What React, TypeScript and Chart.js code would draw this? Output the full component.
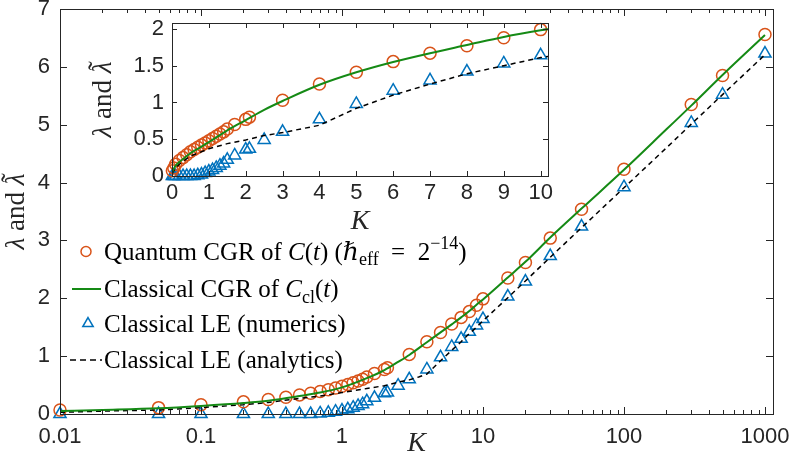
import React, { useEffect, useRef } from 'react';
import { Chart, registerables } from 'chart.js';

Chart.register(...registerables);

// ---------------- data ----------------
const kQuantum = [0.01, 0.05, 0.1, 0.2, 0.3, 0.4, 0.5, 0.6, 0.7, 0.8, 0.9, 1.0, 1.1, 1.2, 1.3, 1.4, 1.5, 1.7, 2.0, 2.1, 3, 4, 5, 6, 7, 8, 9, 10, 15, 20, 30, 50, 100, 300, 500, 1000];
const quantumCGR = [0.07, 0.11, 0.16, 0.21, 0.25, 0.29, 0.33, 0.36, 0.39, 0.42, 0.45, 0.48, 0.51, 0.54, 0.57, 0.6, 0.64, 0.7, 0.77, 0.8, 1.03, 1.25, 1.41, 1.555, 1.67, 1.77, 1.88, 1.99, 2.35, 2.62, 3.04, 3.54, 4.23, 5.35, 5.85, 6.56];

const kClassical = [0.01, 0.02, 0.05, 0.1, 0.2, 0.3, 0.5, 0.7, 1, 1.5, 2, 2.5, 3, 4, 5, 6, 7, 8, 9, 10, 15, 20, 30, 50, 100, 200, 300, 500, 1000];
const classicalCGR = [0.05, 0.07, 0.1, 0.14, 0.19, 0.23, 0.31, 0.37, 0.46, 0.62, 0.76, 0.9, 1.02, 1.24, 1.41, 1.55, 1.67, 1.78, 1.89, 1.98, 2.36, 2.63, 3.05, 3.55, 4.22, 4.92, 5.33, 5.86, 6.55];

const kNumerics = [0.01, 0.05, 0.1, 0.2, 0.3, 0.4, 0.5, 0.6, 0.7, 0.8, 0.9, 1.0, 1.1, 1.2, 1.3, 1.4, 1.5, 1.7, 2.0, 2.1, 2.5, 3, 4, 5, 6, 7, 8, 9, 10, 15, 20, 30, 50, 100, 300, 500, 1000];
const leNumerics = [0, 0, 0, 0, 0, 0, 0, 0, 0.01, 0.02, 0.04, 0.06, 0.08, 0.11, 0.14, 0.17, 0.22, 0.28, 0.36, 0.37, 0.49, 0.6, 0.77, 0.98, 1.16, 1.3, 1.42, 1.53, 1.64, 2.03, 2.29, 2.73, 3.24, 3.92, 5.03, 5.52, 6.23];

const kAnalytic = [0.01, 0.02, 0.05, 0.1, 0.2, 0.3, 0.5, 0.7, 1, 1.5, 2, 2.5, 3, 3.5, 4, 5, 6, 7, 8, 9, 10, 15, 20, 30, 50, 100, 200, 300, 500, 1000];
const leAnalytic = [0.03, 0.05, 0.07, 0.11, 0.16, 0.2, 0.27, 0.31, 0.37, 0.44, 0.49, 0.55, 0.59, 0.64, 0.69, 0.92, 1.1, 1.25, 1.39, 1.5, 1.61, 2.01, 2.3, 2.71, 3.22, 3.91, 4.6, 5.01, 5.52, 6.21];

const mainXTickLabels = ['0.01', '0.1', '1', '10', '100', '1000'];
const mainYTickLabels = ['0', '1', '2', '3', '4', '5', '6', '7'];
const insetXTickLabels = ['0', '1', '2', '3', '4', '5', '6', '7', '8', '9', '10'];
const insetYTickLabels = ['0', '0.5', '1', '1.5', '2'];

const xTitle = 'K';
// y title: "λ and λ̃"
const yTitleParts = ['λ', ' and ', 'λ'];

type Seg = { t: string; it?: boolean; sub?: boolean; sup?: boolean };
const legendLabels: Seg[][] = [
  [{ t: 'Quantum CGR of ' }, { t: 'C', it: true }, { t: '(' }, { t: 't', it: true }, { t: ') (' }, { t: 'ℏ', it: true }, { t: 'eff', sub: true }, { t: '\u2002=\u20022' }, { t: '−14', sup: true }, { t: ')' }],
  [{ t: 'Classical CGR of ' }, { t: 'C', it: true }, { t: 'cl', sub: true }, { t: '(' }, { t: 't', it: true }, { t: ')' }],
  [{ t: 'Classical LE (numerics)' }],
  [{ t: 'Classical LE (analytics)' }],
];

// ---------------- styles ----------------
const ORANGE = '#D95319';
const GREEN = '#158A15';
const BLUE = '#0072BD';
const AXIS = '#262626';
const SANS = "'Liberation Sans', Arial, Helvetica, sans-serif";
const SERIF = "'Liberation Serif', 'DejaVu Serif', serif";

const pts = (xs: number[], ys: number[]) => xs.map((x, i) => ({ x, y: ys[i] }));

function makeDatasets(): any[] {
  return [
    {
      label: 'classical',
      data: pts(kClassical, classicalCGR),
      showLine: true,
      borderColor: GREEN,
      borderWidth: 2,
      pointRadius: 0,
      cubicInterpolationMode: 'monotone',
    },
    {
      label: 'analytics',
      data: pts(kAnalytic, leAnalytic),
      showLine: true,
      borderColor: '#000',
      borderWidth: 1.5,
      borderDash: [5, 4],
      pointRadius: 0,
    },
    {
      label: 'quantum',
      data: pts(kQuantum, quantumCGR),
      showLine: false,
      pointStyle: 'circle',
      pointRadius: 6,
      pointBorderWidth: 1.5,
      pointBorderColor: ORANGE,
      pointBackgroundColor: 'rgba(0,0,0,0)',
      borderColor: ORANGE,
      clip: 12,
    },
    {
      label: 'numerics',
      data: pts(kNumerics, leNumerics),
      showLine: false,
      pointStyle: 'triangle',
      pointRadius: 7,
      pointBorderWidth: 1.5,
      pointBorderColor: BLUE,
      pointBackgroundColor: 'rgba(0,0,0,0)',
      borderColor: BLUE,
      clip: 12,
    },
  ];
}

const isLogTick = (v: number) => {
  const e = Math.floor(Math.log10(v) + 1e-9);
  const m = v / Math.pow(10, e);
  return Math.abs(m - Math.round(m)) < 1e-6;
};

const zeroPad = (s: any) => {
  s.paddingLeft = 0;
  s.paddingRight = 0;
  s.paddingTop = 0;
  s.paddingBottom = 0;
};

const boxTicksPlugin = {
  id: 'boxTicks',
  afterDraw(chart: any, _a: any, opts: any) {
    const { ctx, chartArea: a, scales } = chart;
    const xs = scales.x;
    const ys = scales.y;
    ctx.save();
    ctx.strokeStyle = AXIS;
    ctx.lineWidth = 1;
    ctx.beginPath();
    const isLog = xs.type === 'logarithmic';
    for (const t of xs.ticks) {
      const v = t.value;
      let len = opts.major;
      if (isLog) {
        const e = Math.floor(Math.log10(v) + 1e-9);
        const m = Math.round(v / Math.pow(10, e));
        if (m !== 1) len = opts.minor;
      }
      const px = Math.round(xs.getPixelForValue(v)) + 0.5;
      ctx.moveTo(px, a.bottom);
      ctx.lineTo(px, a.bottom - len);
      ctx.moveTo(px, a.top);
      ctx.lineTo(px, a.top + len);
    }
    for (const t of ys.ticks) {
      const py = Math.round(ys.getPixelForValue(t.value)) + 0.5;
      ctx.moveTo(a.left, py);
      ctx.lineTo(a.left + opts.major, py);
      ctx.moveTo(a.right, py);
      ctx.lineTo(a.right - opts.major, py);
    }
    ctx.stroke();
    ctx.strokeRect(Math.round(a.left) + 0.5, Math.round(a.top) + 0.5, Math.round(a.right - a.left), Math.round(a.bottom - a.top));

    // rotated y-axis title with mixed styles: italic λ, roman "and", italic λ with tilde
    const size = opts.titleSize;
    const cx = opts.titleX;
    const cy = (a.top + a.bottom) / 2;
    ctx.translate(cx, cy);
    ctx.rotate(-Math.PI / 2);
    ctx.fillStyle = AXIS;
    ctx.textBaseline = 'alphabetic';
    ctx.textAlign = 'left';
    const fonts = [`italic ${size}px ${SERIF}`, `${size}px ${SERIF}`, `italic ${size}px ${SERIF}`];
    const widths = yTitleParts.map((p, i) => {
      ctx.font = fonts[i];
      return ctx.measureText(p).width;
    });
    const total = widths.reduce((s, w) => s + w, 0);
    let x = -total / 2;
    const base = size * 0.3;
    yTitleParts.forEach((p, i) => {
      ctx.font = fonts[i];
      ctx.fillText(p, x, base);
      if (i === 2) {
        ctx.font = `${size}px ${SERIF}`;
        const tw = ctx.measureText('\u02DC').width;
        ctx.fillText('\u02DC', x + widths[i] / 2 - tw / 2 + size * 0.06, base - size * 0.16);
      }
      x += widths[i];
    });
    ctx.restore();
  },
};

const whiteAreaPlugin = {
  id: 'whiteArea',
  beforeDraw(chart: any) {
    const { ctx, chartArea: a } = chart;
    ctx.save();
    ctx.fillStyle = '#fff';
    ctx.fillRect(a.left, a.top, a.right - a.left, a.bottom - a.top);
    ctx.restore();
  },
};

function drawRich(ctx: CanvasRenderingContext2D, segs: Seg[], x: number, y: number, size: number) {
  let cx = x;
  for (const s of segs) {
    const small = s.sub || s.sup;
    const fs = small ? size * 0.72 : size;
    ctx.font = `${s.it ? 'italic ' : ''}${fs}px ${SERIF}`;
    const dy = s.sub ? size * 0.22 : s.sup ? -size * 0.42 : 0;
    ctx.fillText(s.t, cx, y + dy);
    cx += ctx.measureText(s.t).width;
  }
}

const legendPlugin = {
  id: 'customLegend',
  afterDraw(chart: any) {
    const ctx: CanvasRenderingContext2D = chart.ctx;
    const rows = [251.5, 289, 323.5, 360];
    const textX = 104;
    const size = 25;
    ctx.save();
    ctx.lineWidth = 1.5;
    ctx.strokeStyle = ORANGE;
    ctx.beginPath();
    ctx.arc(86, rows[0], 5, 0, Math.PI * 2);
    ctx.stroke();
    ctx.strokeStyle = GREEN;
    ctx.lineWidth = 2;
    ctx.beginPath();
    ctx.moveTo(72, rows[1]);
    ctx.lineTo(101, rows[1]);
    ctx.stroke();
    ctx.strokeStyle = BLUE;
    ctx.lineWidth = 1.5;
    const r = 6;
    ctx.beginPath();
    ctx.moveTo(88, rows[2] - r);
    ctx.lineTo(88 + r * 0.866, rows[2] + r * 0.5);
    ctx.lineTo(88 - r * 0.866, rows[2] + r * 0.5);
    ctx.closePath();
    ctx.stroke();
    ctx.strokeStyle = '#000';
    ctx.setLineDash([6, 4]);
    ctx.beginPath();
    ctx.moveTo(70, rows[3]);
    ctx.lineTo(102, rows[3]);
    ctx.stroke();
    ctx.setLineDash([]);
    ctx.fillStyle = '#000';
    ctx.textBaseline = 'alphabetic';
    ctx.textAlign = 'left';
    legendLabels.forEach((segs, i) => drawRich(ctx, segs, textX, rows[i] + 8, size));
    ctx.restore();
  },
};

const tickFont = { family: SANS, size: 22 };

function mainConfig(): any {
  return {
    type: 'scatter',
    data: { datasets: makeDatasets() },
    plugins: [boxTicksPlugin, legendPlugin],
    options: {
      animation: false,
      responsive: false,
      devicePixelRatio: 1,
      events: [],
      layout: { padding: { top: 9, right: 16, left: 0, bottom: 0 } },
      plugins: {
        legend: { display: false },
        tooltip: { enabled: false },
        boxTicks: { major: 7, minor: 4, titleX: 16, titleSize: 27 },
      },
      scales: {
        x: {
          type: 'logarithmic',
          min: 0.01,
          max: 1140,
          afterBuildTicks: (s: any) => {
            s.ticks = s.ticks.filter((t: any) => t.value <= 1000 && isLogTick(t.value));
          },
          afterFit: (s: any) => {
            s.height = 46;
            zeroPad(s);
          },
          grid: { display: false, drawTicks: false },
          border: { display: false },
          ticks: {
            autoSkip: false,
            maxRotation: 0,
            padding: 10,
            color: AXIS,
            font: tickFont,
            callback: (v: any) => {
              const e = Math.log10(Number(v));
              const rr = Math.round(e);
              return Math.abs(e - rr) < 1e-6 ? mainXTickLabels[rr + 2] ?? '' : '';
            },
          },
          title: { display: true, text: xTitle, color: AXIS, padding: 0, font: { family: SERIF, size: 28, style: 'italic' } },
        },
        y: {
          type: 'linear',
          min: 0,
          max: 7,
          afterFit: (s: any) => {
            s.width = 60;
            zeroPad(s);
          },
          grid: { display: false, drawTicks: false },
          border: { display: false },
          ticks: {
            stepSize: 1,
            padding: 10,
            color: AXIS,
            font: tickFont,
            callback: (v: any) => mainYTickLabels[Math.round(Number(v))] ?? '',
          },
        },
      },
    },
  };
}

function insetConfig(): any {
  return {
    type: 'scatter',
    data: { datasets: makeDatasets() },
    plugins: [whiteAreaPlugin, boxTicksPlugin],
    options: {
      animation: false,
      responsive: false,
      devicePixelRatio: 1,
      events: [],
      layout: { padding: { top: 10, right: 22, left: 0, bottom: 0 } },
      plugins: {
        legend: { display: false },
        tooltip: { enabled: false },
        boxTicks: { major: 5, minor: 3, titleX: 18, titleSize: 27 },
      },
      scales: {
        x: {
          type: 'linear',
          min: 0,
          max: 10.2,
          afterBuildTicks: (s: any) => {
            s.ticks = s.ticks.filter((t: any) => Math.abs(t.value - Math.round(t.value)) < 1e-6);
          },
          afterFit: (s: any) => {
            s.height = 62;
            zeroPad(s);
          },
          grid: { display: false, drawTicks: false },
          border: { display: false },
          ticks: {
            stepSize: 1,
            includeBounds: false,
            autoSkip: false,
            maxRotation: 0,
            padding: 4,
            color: AXIS,
            font: tickFont,
            callback: (v: any) => insetXTickLabels[Math.round(Number(v))] ?? '',
          },
          title: { display: true, text: xTitle, color: AXIS, padding: 0, font: { family: SERIF, size: 28, style: 'italic' } },
        },
        y: {
          type: 'linear',
          min: 0,
          max: 2.08,
          afterBuildTicks: (s: any) => {
            s.ticks = s.ticks.filter((t: any) => Math.abs(t.value * 2 - Math.round(t.value * 2)) < 1e-6);
          },
          afterFit: (s: any) => {
            s.width = 87;
            zeroPad(s);
          },
          grid: { display: false, drawTicks: false },
          border: { display: false },
          ticks: {
            stepSize: 0.5,
            includeBounds: false,
            padding: 8,
            color: AXIS,
            font: tickFont,
            callback: (v: any) => insetYTickLabels[Math.round(Number(v) * 2)] ?? '',
          },
        },
      },
    },
  };
}

export default function App() {
  const mainRef = useRef<HTMLCanvasElement>(null);
  const insetRef = useRef<HTMLCanvasElement>(null);
  useEffect(() => {
    const main = new Chart(mainRef.current as HTMLCanvasElement, mainConfig());
    const inset = new Chart(insetRef.current as HTMLCanvasElement, insetConfig());
    return () => {
      main.destroy();
      inset.destroy();
    };
  }, []);
  return (
    <div style={{ position: 'fixed', left: 0, top: 0, width: 789, height: 460, background: '#fff', overflow: 'hidden' }}>
      <canvas ref={mainRef} width={789} height={460} style={{ position: 'absolute', left: 0, top: 0, width: 789, height: 460 }} />
      <canvas ref={insetRef} width={485} height={225} style={{ position: 'absolute', left: 85, top: 13, width: 485, height: 225 }} />
    </div>
  );
}
